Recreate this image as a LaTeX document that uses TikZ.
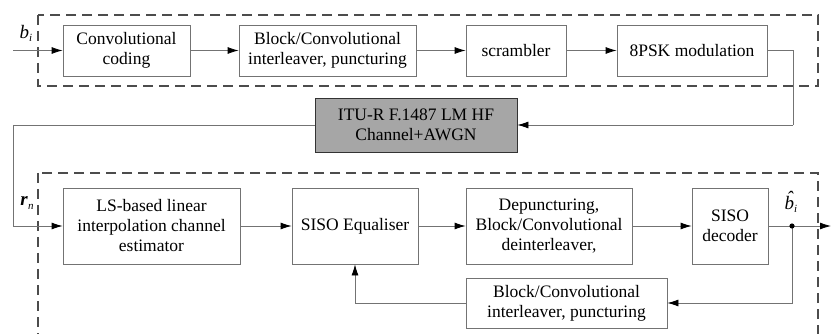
\documentclass[tikz,border=0pt]{standalone}
\usepackage{fontspec}
\setmainfont{Liberation Serif}
\usetikzlibrary{arrows.meta}

\begin{document}
\begin{tikzpicture}[
    x=1pt, y=-1pt,
    blk/.style={rectangle, draw=gray!90!black, line width=0.8pt, fill=white,
                minimum height=51pt, align=center,
                font=\fontsize{17.5}{20}\selectfont, inner sep=1pt},
    chn/.style={blk, fill=gray!70, draw=gray!40!black, minimum height=54pt},
    sig/.style={-{Latex[length=11pt,width=7pt,color=black]}, line width=0.8pt, gray!90!black},
    wire/.style={line width=0.8pt, gray!90!black},
    grp/.style={draw=gray!60!black, line width=1.8pt, dash pattern=on 10pt off 6pt},
    lbl/.style={font=\fontsize{19}{20}\selectfont, inner sep=0pt}
]
\useasboundingbox (0,0) rectangle (831,334);
\clip (0,0) rectangle (831,334);

% transmitter and receiver groups
\draw[grp] (38,15) rectangle (818,86);
\draw[grp] (38,173) rectangle (818,360);

% transmitter
\node[blk, minimum width=127pt] (cc) at (126.5,50.5) {Convolutional\\coding};
\node[blk, minimum width=177pt] (il) at (327.5,50.5) {Block/Convolutional\\interleaver, puncturing};
\node[blk, minimum width=100pt] (scr) at (516,50.5) {scrambler};
\node[blk, minimum width=150pt] (psk) at (692,50.5) {8PSK modulation};

% channel
\node[chn, minimum width=202pt] (chn) at (416,125) {ITU-R F.1487 LM HF\\Channel+AWGN};

% receiver
\node[blk, minimum width=177pt, minimum height=76pt] (ls) at (151.5,226) {LS-based linear\\interpolation channel\\estimator};
\node[blk, minimum width=126pt, minimum height=76pt] (eq) at (355,226) {SISO Equaliser};
\node[blk, minimum width=166pt, minimum height=76pt] (dep) at (549,226) {Depuncturing,\\Block/Convolutional\\deinterleaver,};
\node[blk, minimum width=76pt, minimum height=76pt] (dec) at (730,226) {SISO\\decoder};
\node[blk, minimum width=201pt, minimum height=50pt] (fb) at (566.5,303) {Block/Convolutional\\interleaver, puncturing};

\coordinate (in) at (13,50.5);
\coordinate (tr) at (793,125);
\coordinate (tl) at (13,125);
\coordinate (bh) at (792,226);
\coordinate (out) at (831,226);

\draw[sig] (in) -- (cc);
\draw[sig] (cc) -- (il);
\draw[sig] (il) -- (scr);
\draw[sig] (scr) -- (psk);
\draw[wire] (psk.east) -| (tr);
\draw[sig] (tr) -- (chn.east);
\draw[wire] (chn.west) -- (tl);
\draw[sig] (tl) |- (ls.west);
\draw[sig] (ls) -- (eq);
\draw[sig] (eq) -- (dep);
\draw[sig] (dep) -- (dec);
\draw[sig] (dec) -- (out);
\draw[sig] (bh) |- (fb.east);
\draw[sig] (fb.west) -| (eq.south);
\fill (bh) circle (2.6pt);

% signal labels
\node[lbl] (bi) at (26,33) {\textit{b}\raisebox{-0.35ex}{\fontsize{11}{11}\selectfont\textit{i}}};
\node[lbl] (rn) at (27,203) {\textit{\textbf{r}}\raisebox{-0.35ex}{\fontsize{11}{11}\selectfont\textit{n}}};
\node[lbl] (bo) at (791,202) {\textit{b}\llap{\raisebox{0.62ex}{\textit{\char"02C6}}\kern0.02em}\raisebox{-0.35ex}{\fontsize{11}{11}\selectfont\textit{i}}};
\end{tikzpicture}
\end{document}
